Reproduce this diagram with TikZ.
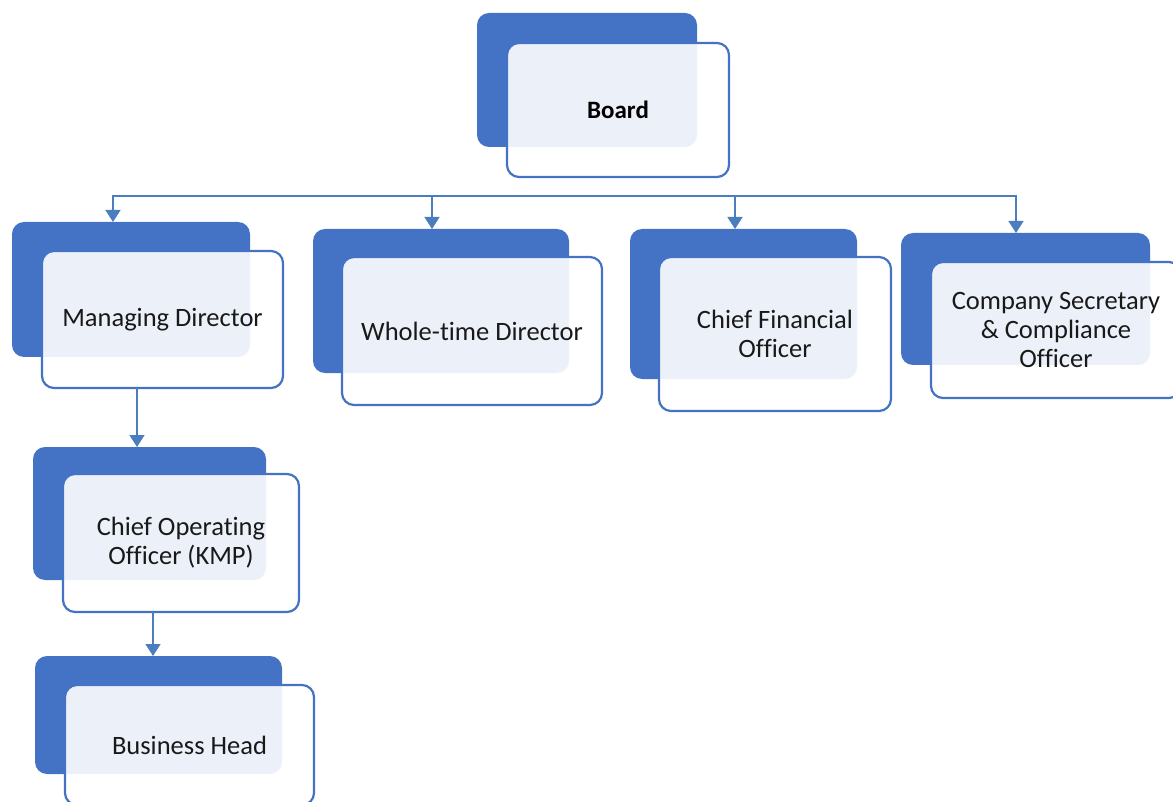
\documentclass[tikz,border=0pt]{standalone}
\usepackage{fontspec}
\setmainfont{Carlito}[Ligatures=NoCommon]
\usetikzlibrary{arrows.meta,positioning}
\definecolor{boxblue}{HTML}{4472C4}
\definecolor{lineblue}{HTML}{4A7EBF}

\begin{document}
\begin{tikzpicture}[x=1pt,y=-1pt,
  conn/.style={-{Triangle[width=15pt,length=12pt]},draw=lineblue,line width=1.4pt},
  back box/.style={rectangle,rounded corners=12pt,fill=boxblue,inner sep=0pt,outer sep=0pt},
  front box/.style={rectangle,rounded corners=12pt,draw=boxblue,line width=2.2pt,fill=white,fill opacity=0.9,text opacity=1,text=black!90,align=center,inner sep=0pt,outer sep=0pt,font=\fontsize{26.5}{29}\selectfont}]

\useasboundingbox (0,0) rectangle (1173,802);

% hintere Kaesten (blau), jeweils links oben versetzt
  \node[back box,minimum width=220pt,minimum height=134pt] (boardb) at (587,80) {};
  \node[back box,minimum width=238pt,minimum height=135pt] (mdb) at (131,289.5) {};
  \node[back box,minimum width=256pt,minimum height=144pt] (wtdb) at (441,301) {};
  \node[back box,minimum width=227pt,minimum height=150pt] (cfob) at (743.5,304) {};
  \node[back box,minimum width=249pt,minimum height=132pt] (csb) at (1025.5,299) {};
  \node[back box,minimum width=233pt,minimum height=133pt] (coob) at (149.5,513.5) {};
  \node[back box,minimum width=247pt,minimum height=118pt] (bhb) at (158.5,715) {};

% vordere Kaesten mit Beschriftung
  \node[front box,minimum width=222pt,minimum height=134pt,font=\fontsize{25}{29}\selectfont\bfseries,text=black] (board) at (618,110) {Board};
  \node[front box,minimum width=241pt,minimum height=137pt] (md) at (162.5,319.5) {Managing Director};
  \node[front box,minimum width=260pt,minimum height=148pt] (wtd) at (472,331) {Whole-time Director};
  \node[front box,minimum width=232pt,minimum height=154pt] (cfo) at (775,334) {Chief Financial\\Officer};
  \node[front box,minimum width=250pt,minimum height=136pt] (cs) at (1056,330) {Company Secretary\\\& Compliance\\Officer};
  \node[front box,minimum width=236pt,minimum height=138pt] (coo) at (181,543) {Chief Operating\\Officer (KMP)};
  \node[front box,minimum width=249pt,minimum height=120pt] (bh) at (189.5,745) {Business Head};

% Verbindungen, Sammelleitung unter dem Board
  \coordinate (bus) at (565,196);
  \draw[conn] (bus) -| ([xshift=-18pt]mdb.north);
  \draw[conn] (bus) -| ([xshift=-9pt]wtdb.north);
  \draw[conn] (bus) -| ([xshift=-8.5pt]cfob.north);
  \draw[conn] (bus) -| ([xshift=-9.5pt]csb.north);
  \draw[conn] ([xshift=-25.5pt]md.south) -- ([xshift=-12.5pt]coob.north);
  \draw[conn] ([xshift=-28pt]coo.south) -- ([xshift=-5.5pt]bhb.north);
\end{tikzpicture}
\end{document}
